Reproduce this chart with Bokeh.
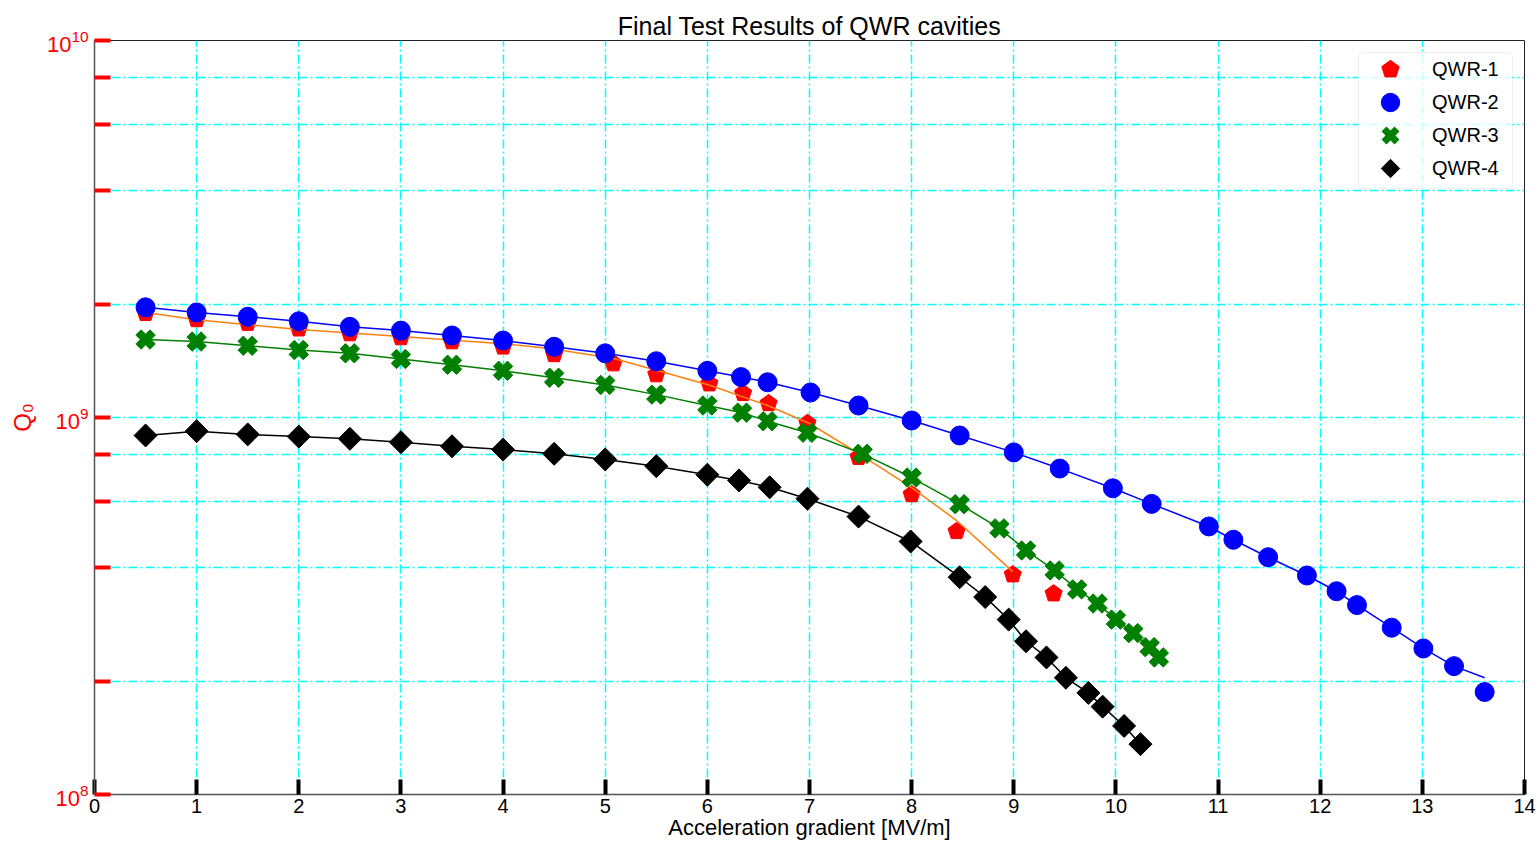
import numpy as np
from bokeh.plotting import figure
from bokeh.models import Range1d, FixedTicker, Legend, LegendItem, BoxAnnotation
from bokeh.embed import file_html
from bokeh.resources import INLINE

# ---------------- data ----------------
x_ticks = [0, 1, 2, 3, 4, 5, 6, 7, 8, 9, 10, 11, 12, 13, 14]
y_major = [1e8, 1e9, 1e10]
y_minor = [2e8, 4e8, 6e8, 8e8, 2e9, 4e9, 6e9, 8e9]

qwr1_x = [0.5, 1.0, 1.5, 2.0, 2.5, 3.0, 3.5, 4.0, 4.5, 5.08, 5.5, 6.02, 6.35, 6.6,
          6.98, 7.48, 8.0, 8.44, 8.99, 9.39]
qwr1_q = [1.89e9, 1.82e9, 1.78e9, 1.72e9, 1.67e9, 1.63e9, 1.59e9, 1.54e9, 1.47e9, 1.39e9,
          1.30e9, 1.23e9, 1.16e9, 1.09e9, 9.66e8, 7.85e8, 6.25e8, 4.99e8, 3.83e8, 3.41e8]
fit1_x = [0.5, 1.0, 2.0, 3.0, 4.0, 4.46, 5.08, 5.51, 6.03, 6.59, 7.0, 7.48, 8.0, 8.44, 8.99]
fit1_q = [1.90e9, 1.816e9, 1.712e9, 1.641e9, 1.569e9, 1.524e9, 1.434e9, 1.333e9, 1.216e9,
          1.076e9, 9.64e8, 8.03e8, 6.52e8, 5.33e8, 3.90e8]

qwr2_x = [0.5, 1.0, 1.5, 2.0, 2.5, 3.0, 3.5, 4.0, 4.5, 5.0, 5.5, 6.0, 6.33, 6.59, 7.01,
          7.48, 8.0, 8.47, 9.0, 9.45, 9.97, 10.35, 10.91, 11.15, 11.49, 11.87, 12.16,
          12.36, 12.70, 13.01, 13.31, 13.61]
qwr2_q = [1.96e9, 1.90e9, 1.85e9, 1.80e9, 1.74e9, 1.70e9, 1.65e9, 1.60e9, 1.54e9, 1.48e9,
          1.41e9, 1.33e9, 1.28e9, 1.24e9, 1.165e9, 1.076e9, 9.82e8, 8.96e8, 8.08e8, 7.32e8,
          6.49e8, 5.90e8, 5.14e8, 4.74e8, 4.26e8, 3.81e8, 3.46e8, 3.18e8, 2.77e8, 2.44e8,
          2.19e8, 1.87e8]
fit2_x = [0.5, 1.0, 1.5, 2.0, 2.5, 3.0, 3.5, 4.0, 4.5, 5.0, 5.5, 6.0, 6.33, 6.59, 7.01,
          7.48, 8.0, 8.47, 9.0, 9.45, 9.97, 10.35, 10.91, 11.15, 11.49, 11.87, 12.16,
          12.36, 12.70, 13.01, 13.31, 13.61]
fit2_q = [1.96e9, 1.90e9, 1.85e9, 1.80e9, 1.74e9, 1.70e9, 1.65e9, 1.60e9, 1.54e9, 1.48e9,
          1.41e9, 1.33e9, 1.28e9, 1.24e9, 1.165e9, 1.076e9, 9.82e8, 8.96e8, 8.08e8, 7.32e8,
          6.49e8, 5.90e8, 5.14e8, 4.74e8, 4.26e8, 3.81e8, 3.46e8, 3.18e8, 2.77e8, 2.44e8,
          2.19e8, 2.04e8]

qwr3_x = [0.5, 1.0, 1.5, 2.0, 2.5, 3.0, 3.5, 4.0, 4.5, 5.0, 5.5, 6.0, 6.34, 6.59, 6.98,
          7.52, 8.0, 8.47, 8.86, 9.12, 9.40, 9.62, 9.82, 10.0, 10.17, 10.33, 10.42]
qwr3_q = [1.61e9, 1.59e9, 1.55e9, 1.51e9, 1.48e9, 1.43e9, 1.38e9, 1.33e9, 1.275e9, 1.22e9,
          1.15e9, 1.076e9, 1.03e9, 9.77e8, 9.11e8, 8.01e8, 6.93e8, 5.89e8, 5.08e8, 4.44e8,
          3.93e8, 3.50e8, 3.21e8, 2.91e8, 2.68e8, 2.46e8, 2.31e8]

qwr4_x = [0.5, 1.0, 1.5, 2.0, 2.5, 3.0, 3.5, 4.0, 4.5, 5.0, 5.5, 6.0, 6.31, 6.61, 6.98,
          7.48, 7.99, 8.47, 8.72, 8.95, 9.12, 9.32, 9.51, 9.73, 9.87, 10.08, 10.24]
qwr4_q = [8.96e8, 9.20e8, 9.02e8, 8.90e8, 8.78e8, 8.60e8, 8.39e8, 8.22e8, 8.01e8, 7.74e8,
          7.43e8, 7.05e8, 6.81e8, 6.53e8, 6.09e8, 5.46e8, 4.69e8, 3.77e8, 3.34e8, 2.91e8,
          2.55e8, 2.31e8, 2.04e8, 1.86e8, 1.71e8, 1.52e8, 1.36e8]

labels = ["QWR-1", "QWR-2", "QWR-3", "QWR-4"]

FONT = "Liberation Sans"
GRID = "#00ffff"
DASH = "9 3 2 3"

p = figure(width=1537, height=844, output_backend="svg", toolbar_location=None,
           y_axis_type="log", x_range=Range1d(0, 14), y_range=Range1d(1e8, 1e10),
           min_border_left=94, min_border_right=13, min_border_top=40, min_border_bottom=50,
           background_fill_color="white", border_fill_color="white")

p.title.text = "Final Test Results of QWR cavities"
p.title.align = "center"
p.title.text_font = FONT
p.title.text_font_size = "25px"
p.title.text_font_style = "normal"
p.title.text_color = "black"
p.title.standoff = 2

p.outline_line_color = "#222222"
p.outline_line_width = 1

# grids
p.xgrid.ticker = FixedTicker(ticks=x_ticks)
p.xgrid.grid_line_color = GRID
p.xgrid.grid_line_dash = DASH
p.xgrid.grid_line_width = 1.5

yt = FixedTicker(ticks=y_major, minor_ticks=y_minor)
p.ygrid.ticker = yt
p.ygrid.grid_line_color = GRID
p.ygrid.grid_line_dash = DASH
p.ygrid.grid_line_width = 1.5
p.ygrid.minor_grid_line_color = GRID
p.ygrid.minor_grid_line_dash = DASH
p.ygrid.minor_grid_line_width = 1.5

# x axis
xa = p.xaxis[0]
xa.ticker = FixedTicker(ticks=x_ticks, minor_ticks=[])
xa.major_tick_in = 15
xa.major_tick_out = 0
xa.major_tick_line_color = "black"
xa.major_tick_line_width = 4
xa.minor_tick_line_color = None
xa.major_label_text_font = FONT
xa.major_label_text_font_size = "20px"
xa.major_label_text_color = "black"
xa.major_label_standoff = 4
xa.axis_label = "Acceleration gradient [MV/m]"
xa.axis_label_text_font = FONT
xa.axis_label_text_font_size = "22px"
xa.axis_label_text_font_style = "normal"
xa.axis_label_text_color = "black"
xa.axis_label_standoff = -1
xa.axis_line_color = "#555555"
xa.axis_line_width = 1.5

# y axis
ya = p.yaxis[0]
ya.ticker = yt
ya.major_tick_in = 16
ya.major_tick_out = 0
ya.major_tick_line_color = "red"
ya.major_tick_line_width = 4
ya.minor_tick_in = 16
ya.minor_tick_out = 0
ya.minor_tick_line_color = "red"
ya.minor_tick_line_width = 4
ya.major_label_text_font = FONT
ya.major_label_text_font_size = "22px"
ya.major_label_text_color = "red"
ya.major_label_standoff = 6
ya.axis_label = "Q₀"
ya.axis_label_text_font = FONT
ya.axis_label_text_font_size = "24px"
ya.axis_label_text_font_style = "normal"
ya.axis_label_text_color = "red"
ya.axis_label_standoff = 8
ya.axis_line_color = "#555555"
ya.axis_line_width = 1.5

# series
r1 = p.ngon(x=qwr1_x, y=qwr1_q, radius=9, radius_units="screen", n=5, angle=0,
            fill_color="#ff0000", line_color="#ff0000")
p.line(fit1_x, fit1_q, line_color="#ff7f0e", line_width=1.5)

r2 = p.scatter(qwr2_x, qwr2_q, marker="circle", size=19, fill_color="#0000ff",
               line_color="#0000ff")
p.line(fit2_x, fit2_q, line_color="#0000ff", line_width=1.5)

r3 = p.scatter(qwr3_x, qwr3_q, marker="plus", size=20, angle=np.pi / 4,
               fill_color="#008000", line_color="#008000")
p.line(qwr3_x, qwr3_q, line_color="#008000", line_width=1.5)

r4 = p.ngon(x=qwr4_x, y=qwr4_q, radius=11.5, radius_units="screen", n=4, angle=0,
            fill_color="black", line_color="black")
p.line(qwr4_x, qwr4_q, line_color="black", line_width=1.5)

# legend-only proxy for the filled X (legend glyphs are drawn unrotated)
r3_leg = p.scatter(x=[np.nan], y=[np.nan], marker="x", size=20, line_width=7,
                   line_color="#008000")

# legend box
box = BoxAnnotation(left=1264, right=1418, bottom=606, top=742,
                    left_units="screen", right_units="screen",
                    bottom_units="screen", top_units="screen",
                    fill_color="white", fill_alpha=0.8,
                    line_color="#cccccc", line_width=1, border_radius=4)
p.add_layout(box)

row_bottoms = [702, 669, 636, 603]
for lab, rend, vb in zip(labels, [r1, r2, r3_leg, r4], row_bottoms):
    lg = Legend(items=[LegendItem(label=lab, renderers=[rend])], location=(1273, vb))
    lg.margin = 0
    lg.padding = 0
    lg.spacing = 0
    lg.glyph_height = 46
    lg.glyph_width = 46
    lg.label_standoff = 19
    lg.label_text_font = FONT
    lg.label_text_font_size = "20px"
    lg.label_text_color = "black"
    lg.border_line_color = None
    lg.background_fill_alpha = 0
    p.add_layout(lg)

open("out.html", "w").write(file_html(p, INLINE))
